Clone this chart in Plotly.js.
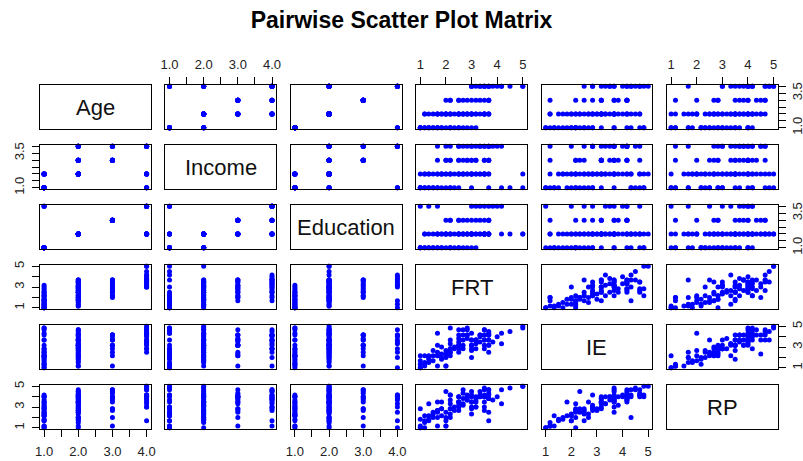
<!DOCTYPE html>
<html><head><meta charset="utf-8">
<script src="https://cdn.plot.ly/plotly-3.0.1.min.js"></script>
<style>html,body{margin:0;padding:0;background:#fff}#chart{width:803px;height:461px}</style>
</head><body><div id="chart"></div>
<script>
// ---- data (one entry per respondent) ----
const age = [
 1,1,1,1,1,1,1,1,1,1,1,1,1,1,1,
 1,1,1,
 1,1,1,1,1,1,1,1,1,1,
 2,2,2,2,2,2,2,2,2,2,2,2,2,2,2,2,2,2,2,2,2,2,2,2,
 2,2,2,2,2,2,2,2,2,2,
 2,2,2,2,2,2,2,
 3,3,3,3,3,3,3,3,3,
 3,3,3,3,3,
 4,4,4,4,4,4,4,4,
 4,4,4,4,4,4,
 4,4,4,4,4];
const income = [
 1,1,1,1,1,1,1,1,1,1,1,1,1,1,1,
 1,1,1,
 2,2,2,2,2,2,2,2,2,2,
 2,2,2,2,2,2,2,2,2,2,2,2,2,2,2,2,2,2,2,2,2,2,2,2,
 3,3,3,3,3,3,3,3,3,3,
 4,4,4,4,4,4,4,
 3,3,3,3,3,3,3,3,3,
 4,4,4,4,4,
 4,4,4,4,4,4,4,4,
 2,2,2,2,2,2,
 1,1,1,1,1];
const education = [
 1,1,1,1,1,1,1,1,1,1,1,1,1,1,1,
 4,4,4,
 1,1,1,1,1,1,1,1,1,1,
 2,2,2,2,2,2,2,2,2,2,2,2,2,2,2,2,2,2,2,2,2,2,2,2,
 2,2,2,2,2,2,2,2,2,2,
 2,2,2,2,2,2,2,
 3,3,3,3,3,3,3,3,3,
 3,3,3,3,3,
 4,4,4,4,4,4,4,4,
 2,2,2,2,2,2,
 2,2,2,2,2];
const frt = [
 1.00,1.00,1.00,1.17,1.17,1.33,1.50,1.67,1.83,2.00,2.17,2.17,2.50,2.33,1.50,
 1.00,1.33,1.67,
 1.00,1.33,1.67,1.83,2.17,2.50,2.83,3.00,3.17,2.67,
 1.17,1.33,1.50,1.67,1.83,2.00,2.17,2.17,2.33,2.50,2.50,2.67,2.83,3.00,3.00,3.17,3.33,3.50,3.67,3.50,2.00,1.83,2.67,1.17,
 1.67,2.00,2.17,2.50,2.83,3.17,3.50,3.67,3.00,2.67,
 1.67,2.00,2.50,2.83,3.00,3.50,3.67,
 2.00,2.17,2.50,2.83,3.00,3.17,3.50,3.67,3.67,
 2.17,2.67,3.33,3.67,2.50,
 3.00,3.33,3.50,3.67,4.00,4.17,3.17,3.83,
 3.00,3.50,3.67,3.50,5.00,3.33,
 3.00,3.67,4.17,4.50,5.00];
const ie = [
 1.00,1.33,2.17,1.50,1.33,1.83,2.17,3.17,2.33,1.17,3.67,4.83,4.67,2.83,2.67,
 1.00,2.00,2.50,
 1.67,2.17,2.17,2.00,2.50,4.17,4.83,4.33,3.67,2.83,
 1.17,1.50,1.67,4.33,1.83,2.33,3.33,2.83,3.00,3.83,3.17,3.67,4.17,2.67,2.00,3.33,4.00,3.17,3.67,2.83,2.67,3.00,4.67,2.17,
 2.17,2.33,2.50,3.50,4.67,3.67,4.17,3.17,3.17,3.17,
 1.17,2.00,2.83,4.17,3.67,3.67,4.50,
 1.17,2.17,3.17,3.83,3.17,3.67,4.17,4.17,3.67,
 2.83,4.17,4.17,3.17,2.50,
 3.67,4.17,4.67,4.17,4.00,3.33,2.83,3.50,
 3.17,3.67,2.50,4.67,5.00,3.50,
 2.83,4.33,4.33,4.50,4.83];
const rp = [
 1.00,1.17,2.83,1.67,2.17,2.17,2.50,3.50,2.83,1.17,3.67,4.17,4.00,3.00,2.33,
 1.00,1.67,2.50,
 1.83,3.33,2.67,2.17,2.33,3.50,4.00,4.00,3.00,3.17,
 1.50,1.83,2.00,2.00,3.50,4.50,3.33,4.17,2.67,3.17,3.50,3.83,3.67,3.50,2.33,4.00,4.17,3.00,2.50,2.67,2.00,2.83,4.33,1.00,
 2.67,2.50,2.83,4.00,4.17,3.50,4.00,3.83,4.00,3.33,
 1.17,1.67,3.00,3.67,4.50,3.50,4.67,
 1.17,2.00,3.50,4.00,2.83,3.67,4.00,4.33,4.67,
 2.83,4.67,4.50,3.83,2.67,
 4.17,4.00,4.17,3.83,4.00,3.33,3.00,3.67,
 3.50,4.83,1.67,4.67,5.00,4.00,
 3.00,4.17,4.67,4.83,5.00];

const varNames = ['Age','Income','Education','FRT','IE','RP'];
const catTickVals = [1,1.5,2,2.5,3,3.5,4];
const catXTickText = ['1.0','','2.0','','3.0','','4.0'];
const catYTickText = ['1.0','','','','','3.5',''];
const scoreTickVals = [1,2,3,4,5];
const scoreXTickText = ['1','2','3','4','5'];
const scoreYTickText = ['1','','3','','5'];

// ---- build ----
const vars = [age, income, education, frt, ie, rp];
const isScore = [false,false,false,true,true,true];
const W = 803, H = 461;
const colLeft = k => 40 + 125.4*k, cellW = 110.7;
const rowTop = k => 84.7 + 60*k, cellH = 44.7;
const FONT = 'Arial, "Liberation Sans", sans-serif';

function rangeOf(v){const mn=Math.min(...v),mx=Math.max(...v),d=mx-mn;return [mn-0.04*d,mx+0.04*d];}
const ranges = vars.map(rangeOf);

const traces=[], layout={
  width:W,height:H,margin:{l:0,r:0,t:0,b:0,pad:0},
  paper_bgcolor:'#fff',plot_bgcolor:'#fff',showlegend:false,
  title:{text:'<b>Pairwise Scatter Plot Matrix</b>',x:0.5,xanchor:'center',y:1-20/H,yref:'container',yanchor:'middle',
         font:{family:FONT,size:23,color:'#000'}},
  annotations:[]
};
for(let i=0;i<6;i++){
  for(let j=0;j<6;j++){
    const n=i*6+j+1, sx=(n===1?'':String(n));
    const xa={domain:[colLeft(j)/W,(colLeft(j)+cellW)/W],anchor:'y'+sx,range:ranges[j],
      showline:true,mirror:true,linecolor:'#000',linewidth:1,showgrid:false,zeroline:false,fixedrange:true,
      tickfont:{family:FONT,size:13,color:'#222'},ticklen:7,tickcolor:'#000',tickwidth:1,ticklabelstandoff:3};
    const ya={domain:[1-(rowTop(i)+cellH)/H,1-rowTop(i)/H],anchor:'x'+sx,range:ranges[i],
      showline:true,mirror:true,linecolor:'#000',linewidth:1,showgrid:false,zeroline:false,fixedrange:true,
      tickfont:{family:FONT,size:13,color:'#222'},ticklen:7,tickcolor:'#000',tickwidth:1,ticklabelstandoff:3};
    const topTicks = (i===0 && j%2===1), botTicks=(i===5 && j%2===0);
    if(topTicks||botTicks){
      xa.side=topTicks?'top':'bottom'; xa.ticks='outside'; xa.tickmode='array';
      xa.tickvals=isScore[j]?scoreTickVals:catTickVals; xa.ticktext=isScore[j]?scoreXTickText:catXTickText;
    } else {xa.showticklabels=false; xa.ticks='';}
    const leftTicks=(j===0 && i%2===1), rightTicks=(j===5 && i%2===0);
    if(leftTicks||rightTicks){
      ya.side=leftTicks?'left':'right'; ya.ticks='outside'; ya.tickmode='array'; ya.tickangle=-90;
      ya.tickvals=isScore[i]?scoreTickVals:catTickVals; ya.ticktext=isScore[i]?scoreYTickText:catYTickText;
      if(rightTicks) ya.ticklabelstandoff=1;
    } else {ya.showticklabels=false; ya.ticks='';}
    layout['xaxis'+sx]=xa; layout['yaxis'+sx]=ya;
    if(i===j){
      traces.push({type:'scatter',mode:'markers',x:[],y:[],xaxis:'x'+sx,yaxis:'y'+sx,hoverinfo:'skip'});
      layout.annotations.push({xref:'x'+sx+' domain',yref:'y'+sx+' domain',x:0.5,y:0.5,xanchor:'center',yanchor:'middle',
        text:varNames[i],showarrow:false,font:{family:FONT,size:22,color:'#111'}});
    } else {
      traces.push({type:'scatter',mode:'markers',x:vars[j],y:vars[i],xaxis:'x'+sx,yaxis:'y'+sx,
        marker:{color:'#0000ff',size:5,line:{width:0}},hoverinfo:'skip',cliponaxis:false});
    }
  }
}
Plotly.newPlot('chart',traces,layout,{staticPlot:true,displayModeBar:false});
</script></body></html>
